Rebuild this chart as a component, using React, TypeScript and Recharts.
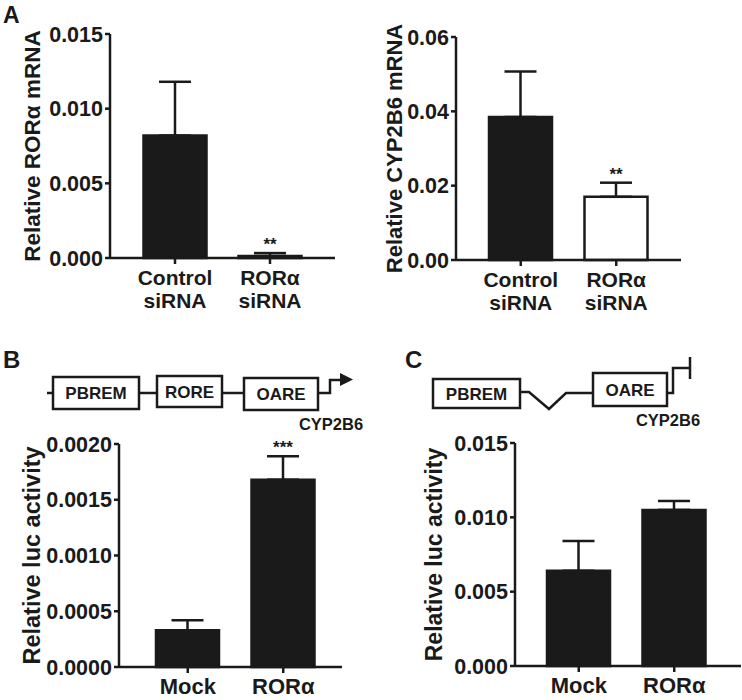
import { BarChart, Bar, XAxis, YAxis, ErrorBar, LabelList, Cell } from 'recharts'

// panel A: siRNA knockdown
const siCategories = ['Control\nsiRNA', 'RORα\nsiRNA']
const rorMrna = [0.0082, 0.00013]
const rorMrnaErr = [0.0036, 0.0002]
const rorMrnaSig = ['', '**']
const rorMrnaTicks = [0, 0.005, 0.01, 0.015]

const cypMrna = [0.0385, 0.017]
const cypMrnaErr = [0.0122, 0.0038]
const cypMrnaSig = ['', '**']
const cypMrnaTicks = [0, 0.02, 0.04, 0.06]

const siFills = ['#1a1a1a', '#ffffff']

// panels B and C: luciferase reporter
const lucCategories = ['Mock', 'RORα']
const lucB = [0.00033, 0.00168]
const lucBErr = [0.00009, 0.00021]
const lucBSig = ['', '***']
const lucBTicks = [0, 0.0005, 0.001, 0.0015, 0.002]

const lucC = [0.0064, 0.0105]
const lucCErr = [0.002, 0.0006]
const lucCSig = ['', '']
const lucCTicks = [0, 0.005, 0.01, 0.015]

const lucFills = ['#1a1a1a', '#1a1a1a']

const INK = '#1a1a1a'
const FONT = '"Liberation Sans", Arial, sans-serif'

const buildRows = (cats: string[], vals: number[], errs: number[], sig: string[]) =>
  cats.map((c, i) => ({ name: c, value: vals[i], err: [0, errs[i]], sig: sig[i] }))

function MultiTick(props: any) {
  const { x, y, payload } = props
  const lines = String(payload.value).split('\n')
  return (
    <g>
      {lines.map((l, i) => (
        <text key={i} x={x} y={y + 19 + i * 23} textAnchor="middle" fill={INK} fontFamily={FONT} fontWeight="bold"
          fontSize={lines.length > 1 ? 21 : 22}>
          {l}
        </text>
      ))}
    </g>
  )
}

interface PanelProps {
  left: number
  top: number
  width: number
  height: number
  axisW: number
  mTop: number
  mBottom: number
  mRight: number
  padL: number
  padR: number
  rows: any[]
  vals: number[]
  errs: number[]
  fills: string[]
  ticks: number[]
  decimals: number
  yTitle: string
  titleX: number
  titleSize: number
}

function Panel(p: PanelProps) {
  const stars = (props: any) => {
    const vb = props.viewBox || props
    const { x, y, width, height } = vb
    const i = props.index
    const s = p.rows[i]?.sig
    if (!s) return null
    const perUnit = height / p.vals[i]
    const errTop = y - p.errs[i] * perUnit
    return (
      <text x={x + width / 2} y={errTop - 3} textAnchor="middle" fill={INK} fontFamily={FONT} fontWeight="bold" fontSize={17}>
        {s}
      </text>
    )
  }
  const yLabel = (props: any) => {
    const vb = props.viewBox
    const cx = p.titleX
    const cy = vb.y + vb.height / 2
    return (
      <text x={cx} y={cy} transform={`rotate(-90, ${cx}, ${cy})`} textAnchor="middle" dominantBaseline="central"
        fill={INK} fontFamily={FONT} fontWeight="bold" fontSize={p.titleSize}>
        {p.yTitle}
      </text>
    )
  }
  return (
    <div style={{ position: 'absolute', left: p.left, top: p.top }}>
      <BarChart width={p.width} height={p.height} data={p.rows}
        margin={{ top: p.mTop, right: p.mRight, bottom: p.mBottom, left: 0 }} barSize={63}>
        <XAxis dataKey="name" height={60} padding={{ left: p.padL, right: p.padR }} interval={0}
          axisLine={{ stroke: INK, strokeWidth: 2.5 }} tickLine={{ stroke: INK, strokeWidth: 2.5 }} tickSize={6}
          tick={<MultiTick />} />
        <YAxis width={p.axisW} domain={[0, p.ticks[p.ticks.length - 1]]} ticks={p.ticks} interval={0}
          axisLine={{ stroke: INK, strokeWidth: 2.5 }} tickLine={{ stroke: INK, strokeWidth: 2.5 }} tickSize={5} tickMargin={2}
          tickFormatter={(v: number) => v.toFixed(p.decimals)}
          tick={{ fill: INK, fontFamily: FONT, fontWeight: 'bold', fontSize: 21.5 }}
          label={yLabel} />
        <Bar dataKey="value" stroke={INK} strokeWidth={2.5} isAnimationActive={false}>
          {p.rows.map((r, i) => <Cell key={r.name} fill={p.fills[i]} />)}
          <ErrorBar dataKey="err" direction="y" width={16} stroke={INK} strokeWidth={2.5} isAnimationActive={false} />
          <LabelList dataKey="sig" content={stars} />
        </Bar>
      </BarChart>
    </div>
  )
}

const txt = { fontFamily: FONT, fontWeight: 'bold' as const, fill: INK }

export default function App() {
  return (
    <div style={{ position: 'absolute', left: 0, top: 0, width: 742, height: 700, background: '#fff', fontFamily: FONT }}>
      <Panel left={0} top={0} width={371} height={340} axisW={110} mTop={34} mBottom={22} mRight={36}
        padL={17.5} padR={17.5} rows={buildRows(siCategories, rorMrna, rorMrnaErr, rorMrnaSig)}
        vals={rorMrna} errs={rorMrnaErr} fills={siFills} ticks={rorMrnaTicks} decimals={3}
        yTitle="Relative RORα mRNA" titleX={32} titleSize={22.5} />
      <Panel left={371} top={0} width={371} height={340} axisW={85} mTop={37} mBottom={20} mRight={61}
        padL={17} padR={17} rows={buildRows(siCategories, cypMrna, cypMrnaErr, cypMrnaSig)}
        vals={cypMrna} errs={cypMrnaErr} fills={siFills} ticks={cypMrnaTicks} decimals={2}
        yTitle="Relative CYP2B6 mRNA" titleX={23} titleSize={22} />
      <Panel left={0} top={340} width={371} height={360} axisW={119} mTop={104} mBottom={-27} mRight={29}
        padL={21} padR={11} rows={buildRows(lucCategories, lucB, lucBErr, lucBSig)}
        vals={lucB} errs={lucBErr} fills={lucFills} ticks={lucBTicks} decimals={4}
        yTitle="Relative luc activity" titleX={32} titleSize={23.5} />
      <Panel left={371} top={340} width={371} height={360} axisW={144} mTop={103} mBottom={-26} mRight={1}
        padL={16} padR={19} rows={buildRows(lucCategories, lucC, lucCErr, lucCSig)}
        vals={lucC} errs={lucCErr} fills={lucFills} ticks={lucCTicks} decimals={3}
        yTitle="Relative luc activity" titleX={63} titleSize={23} />

      {/* panel letters and promoter schematics */}
      <svg width={742} height={700} style={{ position: 'absolute', left: 0, top: 0, pointerEvents: 'none' }}>
        <text x={3} y={23} {...txt} fontSize={23}>A</text>
        <text x={3} y={368} {...txt} fontSize={24}>B</text>
        <text x={405} y={368} {...txt} fontSize={24}>C</text>

        <g stroke={INK} strokeWidth={2.5} fill="#fff">
          <line x1={47} y1={393} x2={53} y2={393} />
          <rect x={53} y={377} width={86} height={32} />
          <line x1={139} y1={393} x2={157} y2={393} />
          <rect x={157} y={376} width={65} height={31} />
          <line x1={222} y1={393} x2={244} y2={393} />
          <rect x={244} y={378} width={74} height={32} />
          <polyline points="318,393 330,393 330,380 342,380" fill="none" />
        </g>
        <polygon points="340,373 353,379.5 340,386" fill={INK} />
        <text x={96} y={399} textAnchor="middle" {...txt} fontSize={17}>PBREM</text>
        <text x={189.5} y={398} textAnchor="middle" {...txt} fontSize={17}>RORE</text>
        <text x={281} y={400} textAnchor="middle" {...txt} fontSize={17}>OARE</text>
        <text x={331} y={430} textAnchor="middle" {...txt} fontSize={16.5}>CYP2B6</text>

        <g stroke={INK} strokeWidth={2.5} fill="#fff">
          <rect x={433} y={379} width={87} height={29} />
          <polyline points="520,392 529,392 549,409 566,393 593,393" fill="none" />
          <rect x={593} y={373} width={74} height={33} />
          <polyline points="667,393 673,393 673,368 690,368" fill="none" />
          <line x1={690} y1={357} x2={690} y2={379} />
        </g>
        <text x={476.5} y={400} textAnchor="middle" {...txt} fontSize={17}>PBREM</text>
        <text x={630} y={396} textAnchor="middle" {...txt} fontSize={17}>OARE</text>
        <text x={668} y={426} textAnchor="middle" {...txt} fontSize={16.5}>CYP2B6</text>
      </svg>
    </div>
  )
}
